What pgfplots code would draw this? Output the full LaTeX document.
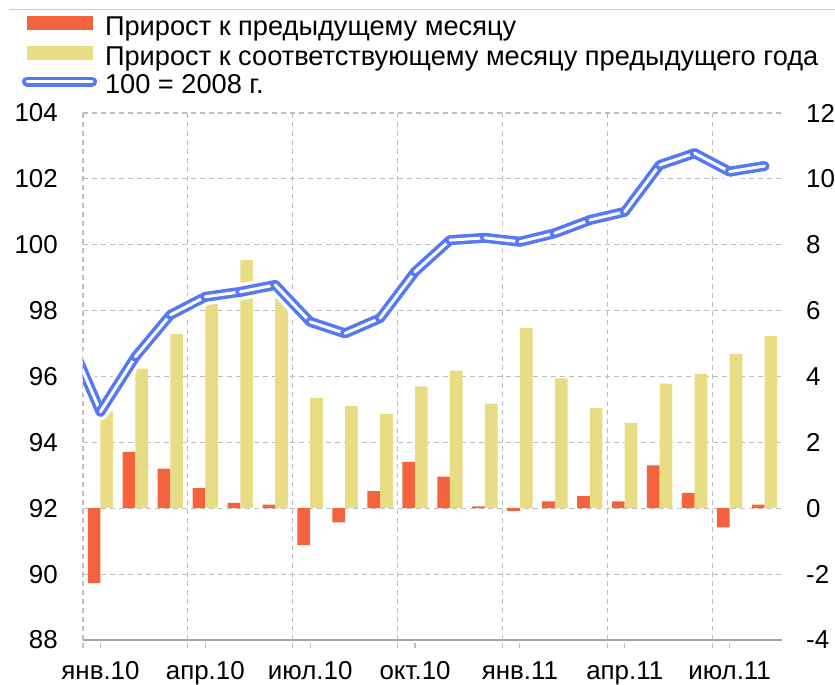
\documentclass[border=0pt]{standalone}
\usepackage{fontspec}
\setmainfont{Liberation Sans}
\usepackage{pgfplots}
\usepackage{pgfplotstable}
\pgfplotsset{compat=1.18}

\definecolor{cred}{RGB}{245,98,62}
\definecolor{cyel}{RGB}{232,220,132}
\definecolor{cblue}{RGB}{84,120,246}
\definecolor{cgrid}{RGB}{190,190,190}
\definecolor{caxis}{RGB}{165,165,165}
\definecolor{ctop}{RGB}{200,200,200}

\pgfplotstableread{
x m y
0 -2.27 2.94
1 1.71 4.24
2 1.20 5.29
3 0.61 6.20
4 0.16 7.53
5 0.11 6.70
6 -1.12 3.35
7 -0.43 3.10
8 0.52 2.86
9 1.41 3.70
10 0.96 4.18
11 0.06 3.18
12 -0.08 5.47
13 0.21 3.94
14 0.37 3.04
15 0.21 2.59
16 1.30 3.78
17 0.47 4.08
18 -0.58 4.68
19 0.11 5.23
}\bars

\pgfplotstableread{
x v
-1 97.4
0 94.93
1 96.60
2 97.87
3 98.42
4 98.57
5 98.78
6 97.66
7 97.31
8 97.77
9 99.18
10 100.14
11 100.21
12 100.09
13 100.35
14 100.75
15 101.00
16 102.42
17 102.78
18 102.22
19 102.39
}\linedata

\tikzset{blueline/.style={draw=cblue, line width=3.5bp, double=white, double distance=3bp, line cap=round, line join=round}}

\begin{document}
\begin{tikzpicture}
\path[use as bounding box] (-83bp,-45bp) rectangle (752bp,640bp);
\draw[draw=ctop, line width=1.2bp] (-74bp,630.7bp) -- (752bp,630.7bp);

\begin{axis}[
  at={(0bp,0bp)}, anchor=south west,
  scale only axis, width=699bp, height=527bp,
  xmin=-0.5, xmax=19.5, ymin=-4, ymax=12,
  axis x line*=bottom, axis y line*=right,
  x axis line style={draw=caxis, line width=1.5bp, -},
  y axis line style={draw=none},
  xtick={-0.5,2.5,5.5,8.5,11.5,14.5,17.5},
  xticklabels={},
  xmajorgrids,
  xtick style={draw=cgrid, line width=1.2bp, dash pattern=on 5bp off 4bp},
  extra x ticks={0,3,...,18},
  extra x tick labels={янв.10,апр.10,июл.10,окт.10,янв.11,апр.11,июл.11},
  extra x tick style={grid=none, tick style={draw=none}},
  tick align=outside, major tick length=8bp,
  ytick={-4,-2,...,12}, yticklabels={-4,-2,0,2,4,6,8,10,12},
  ytick style={draw=none},
  ymajorgrids,
  grid style={draw=cgrid, line width=1.2bp, dash pattern=on 5bp off 4bp},
  major grid style={draw=cgrid, line width=1.2bp, dash pattern=on 5bp off 4bp},
  x grid style={draw=cgrid, line width=1.2bp, dash pattern=on 5bp off 4bp},
  major x grid style={draw=cgrid, line width=1.2bp, dash pattern=on 5bp off 4bp},
  ticklabel style={font=\fontsize{26}{31}\selectfont, text=black},
  yticklabel style={inner sep=0pt, xshift=16bp},
  xticklabel style={inner sep=0pt, yshift=-13bp},
  /pgf/number format/assume math mode=true,
]
\addplot[ybar, bar width=12.7bp, bar shift=-6.35bp, fill=cred, draw=none, forget plot] table[x=x,y=m]{\bars};
\addplot[ybar, bar width=12.7bp, bar shift=6.35bp, fill=cyel, draw=none, forget plot] table[x=x,y=y]{\bars};
\end{axis}

\begin{axis}[
  at={(0bp,0bp)}, anchor=south west,
  scale only axis, width=699bp, height=527bp,
  xmin=-0.5, xmax=19.5, ymin=88, ymax=104,
  axis x line=none, axis y line*=left,
  y axis line style={draw=none},
  ytick={88,90,...,104}, yticklabels={88,90,92,94,96,98,100,102,104},
  ytick style={draw=none},
  ticklabel style={font=\fontsize{26}{31}\selectfont, text=black},
  yticklabel style={inner sep=0pt, xshift=-25bp},
  /pgf/number format/assume math mode=true,
  legend cell align=left,
  legend style={at={(axis description cs:-0.0872,1.1835)}, anchor=north west,
    draw=none, fill=none, inner sep=0pt, outer sep=0pt, row sep=0pt,
    font=\fontsize{27.3}{32}\selectfont,
    nodes={inner sep=0pt, text height=18bp, text depth=10.7bp},
    /tikz/every odd column/.append style={column sep=8bp}},
]
\addplot[draw=white, line width=17bp, line cap=round, line join=round, forget plot] table[x=x,y=v]{\linedata};
\pgfplotsinvokeforeach{-1:0,0:1,1:2,2:3,3:4,4:5,5:6,6:7,7:8,8:9,9:10,10:11,11:12,12:13,13:14,14:15,15:16,16:17,17:18,18:19}{
  \addplot[blueline, restrict x to domain=#1, forget plot] table[x=x,y=v]{\linedata};
}
\addlegendimage{legend image code/.code={\fill[cred] (0bp,2.3bp) rectangle (65bp,15.3bp);}}
\addlegendentry{Прирост к предыдущему месяцу}
\addlegendimage{legend image code/.code={\fill[cyel] (0bp,2.3bp) rectangle (65bp,15.3bp);}}
\addlegendentry{Прирост к соответствующему месяцу предыдущего года}
\addlegendimage{legend image code/.code={\draw[blueline] (0bp,8.8bp) -- (65bp,8.8bp);}}
\addlegendentry{100 = 2008 г.}
\end{axis}
\end{tikzpicture}
\end{document}
